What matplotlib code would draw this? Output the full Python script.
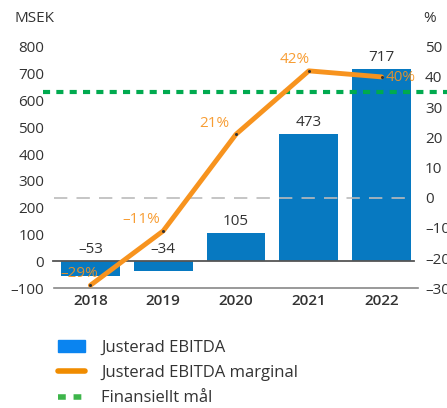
import matplotlib
matplotlib.use("Agg")
import matplotlib.pyplot as plt
from matplotlib.patches import Patch
from matplotlib.lines import Line2D

plt.rcParams['font.family'] = ['Open Sans', 'DejaVu Sans']

years = ["2018", "2019", "2020", "2021", "2022"]
ebitda = [-53, -34, 105, 473, 717]
margin = [-29, -11, 21, 42, 40]
target = 35
left_ticks = [-100, 0, 100, 200, 300, 400, 500, 600, 700, 800]
right_ticks = [-30, -20, -10, 0, 10, 20, 30, 40, 50]

BAR = "#0779C1"
ORANGE = "#F7931E"
GREEN = "#00AA4F"
TXT = "#333333"
FS = 11

def fmt(v):
    return f"{v}".replace("-", "\u2013")

fig = plt.figure(figsize=(4.47, 4.08), dpi=100)
ax = fig.add_axes([54/447, 119.7/408, 364/447, 241.6/408])
ax2 = ax.twinx()

x = list(range(len(years)))
ax.bar(x, ebitda, width=0.81, color=BAR, zorder=2)
ax.set_xlim(-0.5, 4.5)
ax.set_ylim(-100, 800)
ax.set_yticks(left_ticks)
ax.set_yticklabels([fmt(v) for v in left_ticks])
ax.set_xticks(x)
ax.set_xticklabels(years, fontweight='semibold')
ax.tick_params(axis='both', length=0, labelsize=FS, colors=TXT)
ax.tick_params(axis='x', pad=4)
ax.tick_params(axis='y', pad=7)
for s in ['top', 'left', 'right']:
    ax.spines[s].set_visible(False)
ax.spines['bottom'].set_color('#888888')
ax.spines['bottom'].set_linewidth(1.2)
ax.axhline(0, xmin=-0.003, xmax=0.99, color='#555555', lw=1.3, zorder=3, clip_on=False)

for xi, v in zip(x, ebitda):
    yy = max(v, 0) + 16
    ax.text(xi, yy, fmt(v), ha='center', va='bottom', fontsize=FS, color=TXT)

ax2.set_ylim(-30, 50)
ax2.set_yticks(right_ticks)
ax2.set_yticklabels([fmt(v) for v in right_ticks])
ax2.tick_params(axis='y', length=0, labelsize=FS, colors=TXT, pad=5)
for s in ax2.spines.values():
    s.set_visible(False)
ax2.axhline(0, xmin=0.0, xmax=0.98, color='#BBBBBB', lw=1.2, dashes=(8, 5.5), zorder=1)
ax2.plot([-0.65, 4.97], [target, target], color=GREEN, lw=3, dashes=(1.7, 1.5), clip_on=False, zorder=4)
ax2.plot(x, margin, color=ORANGE, lw=3.5, solid_joinstyle='round', solid_capstyle='round', zorder=5,
         marker='o', markersize=1.2, markerfacecolor='#333333', markeredgecolor='#333333')

pct_off = [(-0.15, 1.5), (-0.3, 1.2), (-0.3, 1.2), (-0.2, 1.2), (0.05, -0.3)]
for xi, v, (dx, dy) in zip(x, margin, pct_off):
    ha = 'left' if xi == 4 else 'center'
    ax2.text(xi + dx, v + dy, f"{fmt(v)}%", ha=ha, va='bottom' if xi != 4 else 'center',
             fontsize=FS, color=ORANGE, alpha=0.9, zorder=6)

fig.text(14/447, 1 - 18/408, "MSEK", fontsize=FS, color=TXT, va='center', ha='left')
fig.text(423/447, 1 - 18/408, "%", fontsize=FS, color=TXT, va='center', ha='left')

handles = [Patch(color='#0A84F0'),
           Line2D([0], [0], color='#F08C00', lw=4, solid_capstyle='round'),
           Line2D([0], [0], color='#3DB54A', lw=4, dashes=(1.4, 1.4))]
labels = ["Justerad EBITDA", "Justerad EBITDA marginal", "Finansiellt mål"]
fig.legend(handles, labels, loc='upper left', bbox_to_anchor=(0.13, 1 - 340/408), frameon=False,
           fontsize=12, labelcolor=TXT, handlelength=1.6, handletextpad=1.0, labelspacing=0.55,
           borderaxespad=0, borderpad=0)

fig.savefig("out.png", dpi=100)
